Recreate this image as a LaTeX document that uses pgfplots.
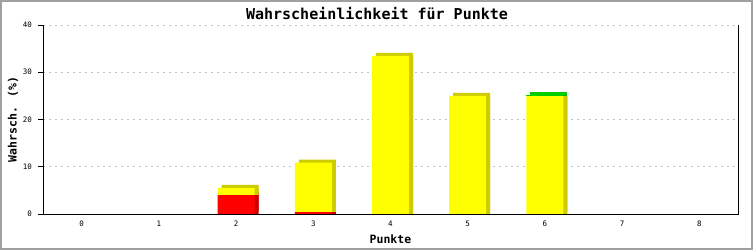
\documentclass[border=0pt]{standalone}
\usepackage{fontspec}
\setmainfont{DejaVu Sans Mono}
\usepackage{pgfplots}
\usepackage{pgfplotstable}
\pgfplotsset{compat=1.18}
\definecolor{ye}{HTML}{FFFF00}
\definecolor{yeS}{HTML}{CCCC00}
\definecolor{re}{HTML}{FF0000}
\definecolor{reS}{HTML}{CC0000}
\definecolor{gr}{HTML}{00CC00}
\definecolor{grS}{HTML}{00B000}
\definecolor{gridc}{HTML}{C0C0C0}
\definecolor{frame}{HTML}{A0A0A0}
% values (front faces)
\pgfplotstableread{
x red yellow green
0 0 0 0
1 0 0 0
2 4.0 1.55 0
3 0.42 10.45 0
4 0 33.45 0
5 0 25.0 0
6 0 24.95 0.3
7 0 0 0
8 0 0 0
}\datatable
% top faces of the 3D bars (top segment coloured over the full depth)
\pgfplotstableread{
x red yellow green
0 0 0 0
1 0 0 0
2 4.0 1.55 0
3 0.42 10.45 0
4 0 33.45 0
5 0 25.0 0
6 0 24.3 0.95
7 0 0 0
8 0 0 0
}\toptable
\pgfplotsset{base/.style={scale only axis, width=695pt, height=189pt,
  xmin=-0.5, xmax=8.5, ymin=0, ymax=40, anchor=south west}}
\begin{document}
\begin{tikzpicture}
\useasboundingbox (0,0) rectangle (753pt,250pt);
\fill[white] (0,0) rectangle (753pt,250pt);
\draw[frame, line width=2pt] (1pt,1pt) rectangle (752pt,249pt);
% grid
\begin{axis}[base, at={(43pt,36pt)}, axis line style={draw=none},
  xtick=\empty, ytick={10,20,30,40}, yticklabels={}, ytick style={draw=none},
  ymajorgrids, grid style={gridc, line width=1pt, dash pattern=on 2pt off 4pt}]
\addplot[draw=none] coordinates {(0,0)};
\end{axis}
% shadows (raised: top faces)
\begin{axis}[base, at={(47pt,39pt)}, hide axis, ybar stacked, bar width=37pt]
\addplot[fill=reS, draw=none] table[x=x, y=red] {\toptable};
\addplot[fill=yeS, draw=none] table[x=x, y=yellow] {\toptable};
\addplot[fill=gr, draw=none] table[x=x, y=green] {\toptable};
\end{axis}
% shadows (side faces)
\begin{axis}[base, at={(47pt,36pt)}, hide axis, ybar stacked, bar width=37pt]
\addplot[fill=reS, draw=none] table[x=x, y=red] {\datatable};
\addplot[fill=yeS, draw=none] table[x=x, y=yellow] {\datatable};
\addplot[fill=grS, draw=none] table[x=x, y=green] {\datatable};
\end{axis}
% front bars and axis decoration
\begin{axis}[base, at={(43pt,36pt)}, ybar stacked, bar width=37pt,
  axis on top, axis line style={draw=none},
  xtick={0,...,8}, ytick={0,10,20,30,40},
  xtick style={draw=none}, ytick style={black, line width=1pt},
  ytick pos=left, tick align=outside, major tick length=5pt,
  /pgf/number format/assume math mode=true,
  tick label style={font=\fontsize{7.5}{8}\selectfont},
  xticklabel style={anchor=center, inner sep=0pt, yshift=-5pt},
  yticklabel style={anchor=east, inner sep=0pt, xshift=-6pt},
  title={\bfseries Wahrscheinlichkeit für Punkte},
  title style={font=\fontsize{15}{16}\selectfont, at={(axis description cs:0.5,1)},
    anchor=base, inner sep=0pt, yshift=0pt, xshift=-13.5pt},
  xlabel={\bfseries Punkte},
  xlabel style={font=\fontsize{11.5}{12}\selectfont, at={(axis description cs:0.5,0)},
    anchor=base, inner sep=0pt, yshift=-29pt},
  ylabel={\bfseries Wahrsch. (\%)},
  ylabel style={font=\fontsize{11.5}{12}\selectfont, at={(axis description cs:-0.0432,0.5)},
    anchor=center, inner sep=0pt},
  after end axis/.code={
    \draw[black, line width=1pt] (rel axis cs:0,1) -- (rel axis cs:0,0) -- (rel axis cs:1,0) -- (rel axis cs:1,1);
  }]
\addplot[fill=re, draw=none] table[x=x, y=red] {\datatable};
\addplot[fill=ye, draw=none] table[x=x, y=yellow] {\datatable};
\addplot[fill=gr, draw=none] table[x=x, y=green] {\datatable};
\end{axis}
\end{tikzpicture}
\end{document}
